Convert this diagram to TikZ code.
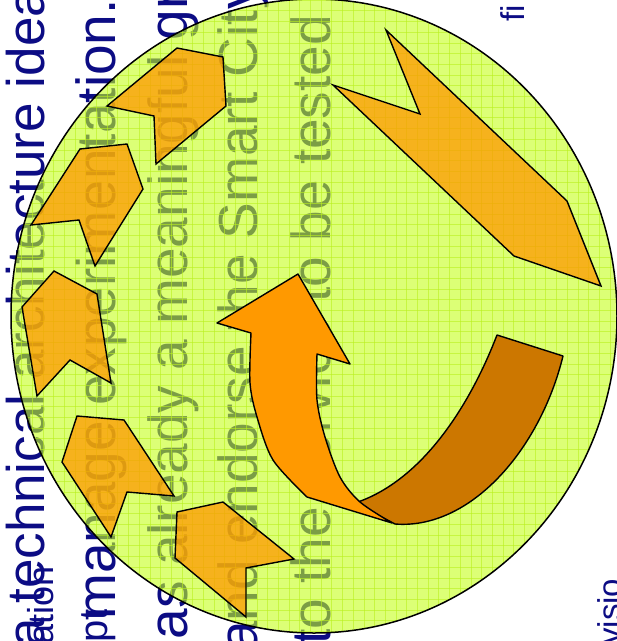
\documentclass[tikz,border=0pt]{standalone}
\usepackage{fontspec}
\setmainfont{Liberation Sans}
\definecolor{slidenavy}{RGB}{12,12,132}
\definecolor{limefill}{RGB}{198,255,28}
\definecolor{gridlime}{RGB}{185,240,30}
\definecolor{arroworange}{RGB}{255,153,0}
\definecolor{ribbonbrown}{RGB}{204,119,0}

\begin{document}
\begin{tikzpicture}[
  x=1pt, y=-1pt,
  every node/.style={inner sep=0pt, rotate=90, anchor=base west, text=slidenavy},
  bigtext/.style={font=\fontsize{55}{60}\selectfont},
  smalltext/.style={font=\fontsize{36}{40}\selectfont},
  tinytext/.style={font=\fontsize{33}{36}\selectfont},
  chevron/.style={draw=black, line width=1.4pt, fill=arroworange, fill opacity=0.75},
  outline/.style={draw=black, line width=1.4pt, line join=round},
]
\useasboundingbox (0,0) rectangle (617,641);
\fill[white] (0,0) rectangle (617,641);
\clip (0,0) rectangle (617,641);

\node[bigtext, font=\fontsize{53}{58}\selectfont] (idealine) at (45,648) {a technical architecture idea};
\node[smalltext] (ationbit) at (53,645) {ation};
\node[bigtext] (manageline) at (115,620) {manage experimentation.};
\node[font=\fontsize{40}{44}\selectfont] (ptbit) at (107,643) {pt};
\node[bigtext] (groundline) at (187,670) {has already a meaningful gro};
\node[bigtext] (endorseline) at (257,652) {and endorse the Smart City};
\node[bigtext] (serviceline) at (330,645) {to the service to be tested};
\node[tinytext] (fibit) at (524,22) {fi};
\node[tinytext] (visiobit) at (621,645) {visio};

\fill[limefill, fill opacity=0.6] (314,316) ellipse [x radius=303, y radius=317];
\begin{scope}
  \clip (314,316) ellipse [x radius=303, y radius=317];
  \foreach \g in {0,10.7,...,640} {
    \draw[gridlime, line width=0.5pt, opacity=0.6] (\g,0) -- (\g,641);
    \draw[gridlime, line width=0.5pt, opacity=0.6] (0,\g) -- (617,\g);
  }
\end{scope}
\draw[line width=1.5pt] (314,316) ellipse [x radius=303, y radius=317];

\draw[chevron] (177,48) -- (223,57) -- (226,106) -- (156,164) -- (154,116) -- (107,106) -- cycle;
\draw[chevron] (80,149) -- (127,144) -- (143,189) -- (95,266) -- (79,220) -- (31,225) -- cycle;
\draw[chevron] (54,271) -- (97,294) -- (111,383) -- (70,360) -- (37,396) -- (22,307) -- cycle;
\draw[chevron] (77,416) -- (124,420) -- (174,496) -- (127,492) -- (111,537) -- (62,462) -- cycle;
\draw[chevron] (177,512) -- (223,502) -- (294,559) -- (246,568) -- (246,617) -- (175,558) -- cycle;
\draw[chevron] (386,30) -- (420,114) -- (333,85) -- (514,256) -- (601,286) -- (567,201) -- cycle;

\draw[outline, fill=ribbonbrown]
  (355,503) .. controls (425,480) and (472,400) .. (497,335)
  -- (563,356) .. controls (540,450) and (470,530) .. (395,524)
  -- cycle;
\draw[outline, fill=arroworange]
  (298,274) -- (350,364) -- (317,354)
  -- plot[smooth] coordinates {(317,354) (317,400) (325,437) (340,477) (360,502) (392,523)}
  -- (307,497)
  -- plot[smooth] coordinates {(307,497) (273,460) (257,417) (250,383) (251,333)}
  -- (217,323) -- cycle;
\end{tikzpicture}
\end{document}
